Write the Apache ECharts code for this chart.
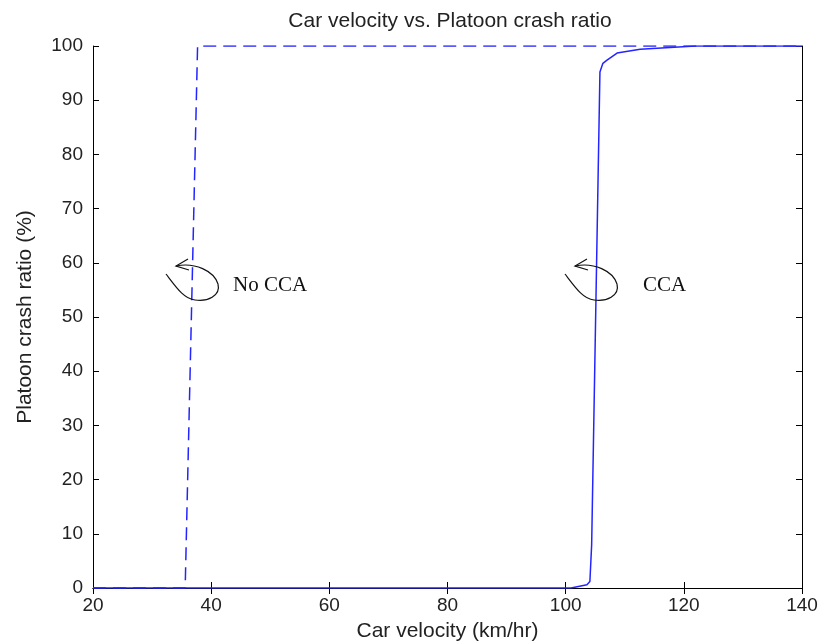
<!DOCTYPE html>
<html>
<head>
<meta charset="utf-8">
<title>Car velocity vs. Platoon crash ratio</title>
<script src="https://cdn.jsdelivr.net/npm/echarts@6/dist/echarts.min.js"></script>
<style>
  html, body { margin: 0; padding: 0; background: #fff; }
  #chart { width: 820px; height: 643px; }
</style>
</head>
<body>
<div id="chart"></div>
<script>
// data
var velNoCca = [20, 35.6, 37.7, 140];
var ratioNoCca = [0, 0, 100, 100];

var velCca = [20, 100.9, 103.6, 104.1, 104.4, 105.8, 106.3, 107, 108.7, 112.6, 122, 140];
var ratioCca = [0, 0, 0.6, 1.2, 8, 95.2, 96.8, 97.4, 98.7, 99.4, 100, 100];

var xTicks = [20, 40, 60, 80, 100, 120, 140];
var yTicks = [0, 10, 20, 30, 40, 50, 60, 70, 80, 90, 100];

function zip(xs, ys) {
  return xs.map(function (x, i) { return [x, ys[i]]; });
}

var chart = echarts.init(document.getElementById('chart'));

var sans = 'Liberation Sans, Arial, sans-serif';
var tickFont = { fontFamily: sans, fontSize: 19, color: '#222' };
var nameFont = { fontFamily: sans, fontSize: 21, color: '#222' };
var lineCol = '#2424ff';
var ink = { fill: null, stroke: '#111', lineWidth: 1.2 };

function bez(dx, a) {
  return {
    type: 'bezierCurve', z: 10, silent: true,
    shape: { x1: a[0] + dx, y1: a[1], cpx1: a[2] + dx, cpy1: a[3], cpx2: a[4] + dx, cpy2: a[5], x2: a[6] + dx, y2: a[7] },
    style: ink
  };
}

// hand-drawn curly arrow, shifted by dx
function curl(dx) {
  return [
    bez(dx, [176, 266, 195, 262, 214, 271, 218, 284]),
    bez(dx, [218, 284, 221, 296, 207, 302, 195, 300]),
    bez(dx, [195, 300, 184, 299, 176, 287, 166, 274]),
    { type: 'polyline', z: 10, silent: true,
      shape: { points: [[188 + dx, 259], [176 + dx, 266], [189 + dx, 270]] },
      style: ink }
  ];
}

var option = {
  animation: false,
  title: {
    text: 'Car velocity vs. Platoon crash ratio',
    left: 445, top: 6, textAlign: 'center',
    textStyle: { fontFamily: sans, fontSize: 21, fontWeight: 'normal', color: '#222' }
  },
  grid: { left: 93, right: 18, top: 46, bottom: 55, outerBoundsMode: 'none' },
  xAxis: [{
    type: 'value', min: 20, max: 140, interval: 20, position: 'bottom',
    name: 'Car velocity (km/hr)', nameLocation: 'middle', nameGap: 33,
    nameTextStyle: nameFont,
    axisLine: { lineStyle: { color: '#000', width: 1 } },
    axisTick: { inside: true, length: 6, lineStyle: { color: '#000' } },
    axisLabel: Object.assign({ margin: 8 }, tickFont),
    splitLine: { show: false }
  }, {
    type: 'value', min: 20, max: 140, interval: 20, position: 'top',
    axisLine: { lineStyle: { color: '#000', width: 1 } },
    axisTick: { inside: true, length: 6, lineStyle: { color: '#000' } },
    axisLabel: { show: false },
    splitLine: { show: false }
  }],
  yAxis: [{
    type: 'value', min: 0, max: 100, interval: 10, position: 'left',
    name: 'Platoon crash ratio (%)', nameLocation: 'middle', nameGap: 57,
    nameTextStyle: nameFont,
    axisLine: { show: true, lineStyle: { color: '#000', width: 1 } },
    axisTick: { show: true, inside: true, length: 6, lineStyle: { color: '#000' } },
    axisLabel: Object.assign({ margin: 10 }, tickFont),
    splitLine: { show: false }
  }, {
    type: 'value', min: 0, max: 100, interval: 10, position: 'right',
    axisLine: { show: true, lineStyle: { color: '#000', width: 1 } },
    axisTick: { show: true, inside: true, length: 6, lineStyle: { color: '#000' } },
    axisLabel: { show: false },
    splitLine: { show: false }
  }],
  series: [{
    name: 'No CCA', type: 'line', showSymbol: false, z: 5,
    data: zip(velNoCca, ratioNoCca),
    lineStyle: { color: lineCol, width: 1.5, type: [13, 7] }
  }, {
    name: 'CCA', type: 'line', showSymbol: false, z: 5,
    data: zip(velCca, ratioCca),
    lineStyle: { color: lineCol, width: 1.5 }
  }],
  graphic: curl(0).concat(curl(399)).concat([
    { type: 'text', left: 233, top: 275, z: 10,
      style: { text: 'No CCA', fill: '#111', font: '21px "Liberation Serif", "DejaVu Serif", serif' } },
    { type: 'text', left: 643, top: 275, z: 10,
      style: { text: 'CCA', fill: '#111', font: '21px "Liberation Serif", "DejaVu Serif", serif' } }
  ])
};

chart.setOption(option);
</script>
</body>
</html>
